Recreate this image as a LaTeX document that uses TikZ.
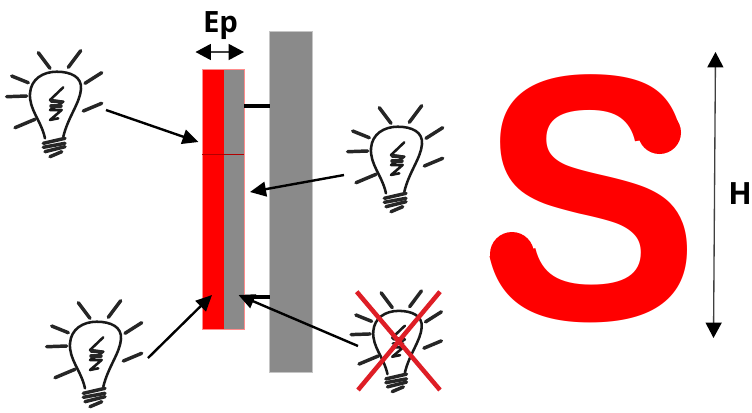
\documentclass[tikz,border=0pt]{standalone}
\usepackage{fontspec}
\setmainfont{Open Sans}
\newfontfamily\letterfont{Liberation Sans}
\usetikzlibrary{arrows.meta}
\definecolor{bargray}{RGB}{138,138,138}
\tikzset{
  ray/.style={line width=2.6pt, line cap=round, black!85},
  wire/.style={line width=1.9pt, line cap=round, line join=round, black!90},
  pointer/.style={line width=1.8pt, -{Triangle[length=12, width=11]}},
  dimline/.style={line width=1pt, black!75, {Triangle[length=11.5, width=12, black]}-{Triangle[length=11.5, width=12, black]}},
  crossline/.style={line width=3.4pt, color={rgb,255:red,222;green,30;blue,38}},
  bulb/.pic={
    % rays
    \draw[ray] (-16.7,-42.3) -- (-5,-26.7);
    \draw[ray] (25.7,-44.3) -- (13.3,-27.7);
    \draw[ray] (46.7,-22.3) -- (30,-11.7);
    \draw[ray] (46.7,8.3) -- (28.3,16);
    \draw[ray] (-43.3,-19) -- (-26.7,-12.3);
    \draw[ray] (-48.3,1.7) -- (-28.3,1);
    \draw[ray] (-40,32.7) -- (-20,24.3);
    % glass
    \draw[wire] (-10,43.3) .. controls (-14,25) and (-26,15) .. (-25,-1.7)
      .. controls (-24,-16) and (-12,-23.3) .. (1.7,-23.3)
      .. controls (16,-23.3) and (27,-18) .. (26,-6)
      .. controls (25,8) and (13,22) .. (8.3,41.7);
    % filament
    \draw[wire] (8.3,-7.7) -- (-5,5) -- (8.3,6.7) -- (-5,15) -- (6.7,15) -- (-5,25) -- (3.3,23.3);
    \draw[ray] (-4,6) -- (7,7);
    \draw[ray] (-4,11) -- (6,11);
    % base
    \draw[ray] (-11.7,48.3) -- (10,43.3);
    \draw[ray] (-11.7,52.3) -- (10,48.3);
    \draw[ray] (-10,56.7) -- (10,51.7);
    \draw[ray] (-5,61.7) -- (6.7,56.7);
  }
}
\begin{document}
\begin{tikzpicture}[x=.75pt, y=-.75pt]
\useasboundingbox (0,0) rectangle (752,412);
% tall gray plate
\filldraw[fill=bargray, draw=bargray!50, line width=.5pt] (269.5,31) rectangle (312.5,372);
% stacked layers
\fill[red] (202,69.5) rectangle (223.5,329);
\fill[bargray] (223.5,69.5) rectangle (244,329);
\draw[red!45, line width=.5pt] (202,69.5) rectangle (244,329);
\draw[red!70!black, line width=.5pt] (202,154) -- (244,154);
% spacers
\coordinate (topa) at (244,106);
\coordinate (topb) at (270,106);
\coordinate (lowa) at (244,297);
\coordinate (lowb) at (270,297);
\draw[line width=3.5pt] (topa) -- (topb);
\draw[line width=3.5pt] (lowa) -- (lowb);
% bulbs
\pic at (55,95) {bulb};
\pic at (396,150) {bulb};
\pic at (95,345) {bulb};
\pic[scale=.95] at (397,333) {bulb};
% cross
\coordinate (crossa) at (356.7,291.7);
\coordinate (crossb) at (440,390);
\coordinate (crossc) at (440,291.7);
\coordinate (crossd) at (358,390);
\draw[crossline] (crossa) -- (crossb);
\draw[crossline] (crossc) -- (crossd);
% arrows
\coordinate (onestart) at (106,110);
\coordinate (oneend) at (198.5,142);
\coordinate (twostart) at (344,175);
\coordinate (twoend) at (250,192);
\coordinate (threestart) at (148,358);
\coordinate (threeend) at (212,295);
\coordinate (fourstart) at (358,346);
\coordinate (fourend) at (238.5,295);
\draw[pointer] (onestart) -- (oneend);
\draw[pointer] (twostart) -- (twoend);
\draw[pointer] (threestart) -- (threeend);
\draw[pointer] (fourstart) -- (fourend);
% thickness
\coordinate (epleft) at (195.5,52);
\coordinate (epright) at (244,52);
\draw[dimline] (epleft) -- (epright);
\node[font=\fontsize{22}{22}\selectfont\bfseries, inner sep=0pt] (eplabel) at (220.5,26) {Ep};
% height
\coordinate (htop) at (715.5,52);
\coordinate (hbot) at (713.5,338);
\draw[dimline] (htop) -- (hbot);
\node[font=\fontsize{23}{23}\selectfont\bfseries, inner sep=0pt] (hlabel) at (740,194) {H};
% big letter
\node[font=\letterfont\fontsize{263}{263}\selectfont\bfseries, text=red, inner sep=0pt, xscale=.94] (sletter) at (590.5,199) {S};
% rounded ends of the letter
\fill[red] (659.5,132.5) circle (21.5);
\fill[red] (512,254) circle (22);
\end{tikzpicture}
\end{document}
